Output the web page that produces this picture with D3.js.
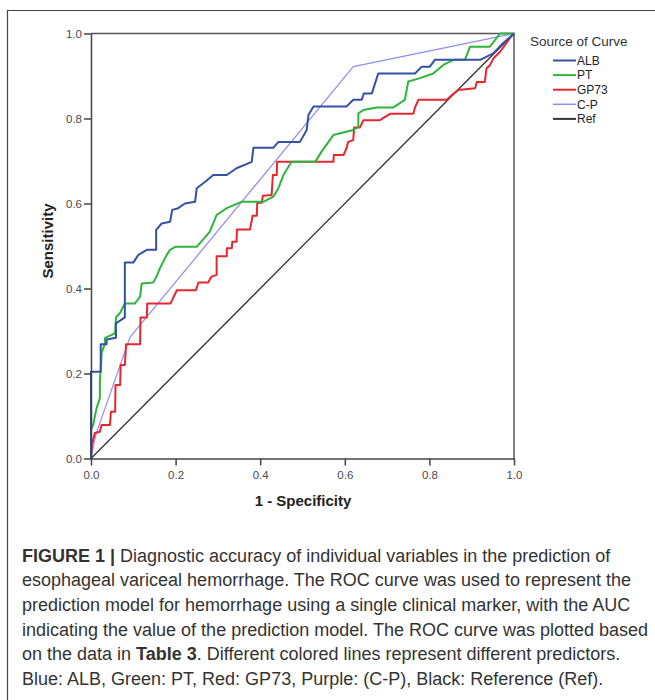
<!DOCTYPE html>
<html lang="en">
<head>
    <meta charset="UTF-8">
    <title>ROC curves</title>
    <style>
        body{ margin: 0; background: #fff; }
        svg{ display: block; font-family: "Liberation Sans", Arial, sans-serif; }
        .tick text{ font-size: 11.5px; fill: #4a4a4a; }
        .tick line, .domain{ stroke: #444; stroke-width: 1.5; }
        .caption{ font-size: 18px; fill: #333; }
    </style>
</head>
<body>
    <svg id="main-svg" width="655" height="700"></svg>

    <script src="https://cdn.jsdelivr.net/npm/d3@7"></script>
    <script>

        // curve vertices, [1 - specificity, sensitivity]
        const alb = [[0,0],[0,0.204],[0.023,0.204],[0.023,0.269],[0.037,0.269],[0.037,0.28],[0.059,0.284],[0.059,0.318],
            [0.080,0.332],[0.080,0.461],[0.1,0.461],[0.112,0.479],[0.132,0.491],[0.154,0.491],[0.154,0.538],[0.167,0.553],
            [0.187,0.557],[0.192,0.585],[0.206,0.589],[0.222,0.600],[0.246,0.604],[0.25,0.636],[0.27,0.651],[0.289,0.667],
            [0.321,0.667],[0.344,0.683],[0.38,0.698],[0.384,0.731],[0.431,0.731],[0.443,0.745],[0.494,0.745],[0.51,0.773],
            [0.514,0.808],[0.526,0.828],[0.604,0.828],[0.62,0.844],[0.64,0.844],[0.645,0.859],[0.664,0.859],[0.679,0.906],
            [0.766,0.906],[0.782,0.922],[0.801,0.922],[0.813,0.938],[0.92,0.938],[0.951,0.953],[0.974,0.977],[1,1]];

        const pt = [[0,0],[0,0.068],[0.005,0.079],[0.013,0.118],[0.021,0.142],[0.021,0.185],[0.024,0.224],[0.025,0.248],
            [0.033,0.271],[0.033,0.284],[0.049,0.291],[0.057,0.295],[0.059,0.332],[0.069,0.343],[0.076,0.357],[0.08,0.365],
            [0.104,0.365],[0.116,0.381],[0.12,0.412],[0.147,0.414],[0.155,0.428],[0.163,0.448],[0.179,0.479],[0.187,0.491],
            [0.199,0.498],[0.25,0.498],[0.281,0.534],[0.297,0.573],[0.321,0.589],[0.356,0.604],[0.407,0.604],[0.431,0.616],
            [0.443,0.636],[0.455,0.667],[0.474,0.698],[0.53,0.698],[0.545,0.722],[0.573,0.761],[0.62,0.773],[0.632,0.781],
            [0.632,0.812],[0.644,0.82],[0.675,0.826],[0.715,0.826],[0.742,0.844],[0.75,0.887],[0.778,0.895],[0.809,0.906],
            [0.833,0.926],[0.857,0.938],[0.884,0.938],[0.896,0.969],[0.943,0.969],[0.967,1],[1,1]];

        const gp73 = [[0,0],[0.002,0.032],[0.009,0.06],[0.021,0.063],[0.025,0.079],[0.045,0.079],[0.047,0.11],[0.057,0.11],
            [0.058,0.173],[0.069,0.173],[0.07,0.22],[0.08,0.22],[0.083,0.269],[0.116,0.269],[0.117,0.332],[0.132,0.332],
            [0.133,0.365],[0.188,0.365],[0.203,0.396],[0.248,0.396],[0.254,0.414],[0.277,0.414],[0.285,0.428],[0.297,0.432],
            [0.297,0.476],[0.321,0.476],[0.321,0.495],[0.333,0.495],[0.334,0.51],[0.344,0.51],[0.345,0.539],[0.376,0.539],
            [0.382,0.571],[0.392,0.571],[0.393,0.602],[0.404,0.602],[0.406,0.618],[0.427,0.62],[0.43,0.667],[0.439,0.667],
            [0.44,0.698],[0.573,0.698],[0.574,0.714],[0.597,0.714],[0.604,0.73],[0.608,0.745],[0.62,0.749],[0.622,0.779],
            [0.636,0.779],[0.644,0.796],[0.683,0.796],[0.707,0.811],[0.762,0.811],[0.766,0.826],[0.774,0.844],[0.841,0.844],
            [0.853,0.855],[0.868,0.867],[0.908,0.871],[0.912,0.886],[0.931,0.886],[0.935,0.918],[0.943,0.925],[0.951,0.941],
            [0.967,0.957],[0.979,0.973],[0.99,0.989],[1,1]];

        const cp = [[0,0],[0.011,0.055],[0.092,0.285],[0.62,0.922],[1,1]];
        const ref = [[0,0],[1,1]];

        const seriesNames = ['ALB','PT','GP73','C-P','Ref'];
        const seriesData = [alb, pt, gp73, cp, ref];
        const seriesColors = ['#3352a6','#2fb43c','#e8262e','#8c8cf4','#333333'];
        const seriesWidths = [2, 2, 2, 1.2, 1.3];

        const tickVals = [0, 0.2, 0.4, 0.6, 0.8, 1.0];

        const captionLines = [
            [['FIGURE 1 | ', true], ['Diagnostic accuracy of individual variables in the prediction of', false]],
            [['esophageal variceal hemorrhage. The ROC curve was used to represent the', false]],
            [['prediction model for hemorrhage using a single clinical marker, with the AUC', false]],
            [['indicating the value of the prediction model. The ROC curve was plotted based', false]],
            [['on the data in ', false], ['Table 3', true], ['. Different colored lines represent different predictors.', false]],
            [['Blue: ALB, Green: PT, Red: GP73, Purple: (C-P), Black: Reference (Ref).', false]]
        ];

        let mSvg = d3.select('#main-svg');

        // outer figure box (left + top edge only visible)
        mSvg.append('path')
            .attr('d', 'M7.5,700 V10.5 H655')
            .style('fill','none')
            .style('stroke','#444')
            .style('stroke-width',1.2);

        let x = d3.scaleLinear().domain([0,1]).range([91,514]);
        let y = d3.scaleLinear().domain([0,1]).range([458.5,33.5]);

        // frame top/right
        mSvg.append('path')
            .attr('d', `M${x(0)},${y(1)} H${x(1)} V${y(0)}`)
            .style('fill','none')
            .style('stroke','#555')
            .style('stroke-width',1.5);

        let line = d3.line().x(d => x(d[0])).y(d => y(d[1]));

        // draw ref first, then C-P, then the others on top
        [4,3,2,1,0].forEach(i => {
            mSvg.append('path')
                .datum(seriesData[i])
                .attr('d', line)
                .style('fill','none')
                .style('stroke', seriesColors[i])
                .style('stroke-width', seriesWidths[i])
                .style('stroke-linejoin','round');
        });

        mSvg.append('g')
            .attr('transform', `translate(${x(0)},0)`)
            .call(d3.axisLeft(y).tickValues(tickVals).tickFormat(d3.format('.1f')).tickSize(7).tickPadding(2).tickSizeOuter(0));

        mSvg.append('g')
            .attr('transform', `translate(0,${y(0)})`)
            .call(d3.axisBottom(x).tickValues(tickVals).tickFormat(d3.format('.1f')).tickSize(7).tickPadding(5).tickSizeOuter(0));

        mSvg.append('text')
            .attr('transform', 'translate(53,241) rotate(-90)')
            .attr('text-anchor','middle')
            .style('font-size','15px')
            .style('font-weight','bold')
            .style('fill','#222')
            .text('Sensitivity');

        mSvg.append('text')
            .attr('x', 303)
            .attr('y', 505.5)
            .attr('text-anchor','middle')
            .style('font-size','15px')
            .style('font-weight','bold')
            .style('fill','#222')
            .text('1 - Specificity');

        // legend
        mSvg.append('text')
            .attr('x', 530)
            .attr('y', 46)
            .style('font-size','13.5px')
            .style('fill','#333')
            .text('Source of Curve');

        let legend = mSvg.selectAll('.legend-row')
            .data(seriesNames)
            .enter()
            .append('g')
            .classed('legend-row', true)
            .attr('transform', (d,i) => `translate(553,${60.5 + i*14.6})`);

        legend.append('line')
            .attr('x1', 0).attr('x2', 23)
            .style('stroke', (d,i) => seriesColors[i])
            .style('stroke-width', (d,i) => i === 3 ? 1.5 : 2);

        legend.append('text')
            .attr('x', 24)
            .attr('dy', '0.36em')
            .style('font-size','12px')
            .style('fill','#222')
            .text(d => d);

        // caption
        mSvg.selectAll('.caption')
            .data(captionLines)
            .enter()
            .append('text')
            .classed('caption', true)
            .attr('x', 22)
            .attr('y', (d,i) => 561.5 + i*24.7)
            .selectAll('tspan')
            .data(d => d)
            .enter()
            .append('tspan')
            .style('font-weight', d => d[1] ? 'bold' : 'normal')
            .text(d => d[0]);

    </script>
</body>
</html>
